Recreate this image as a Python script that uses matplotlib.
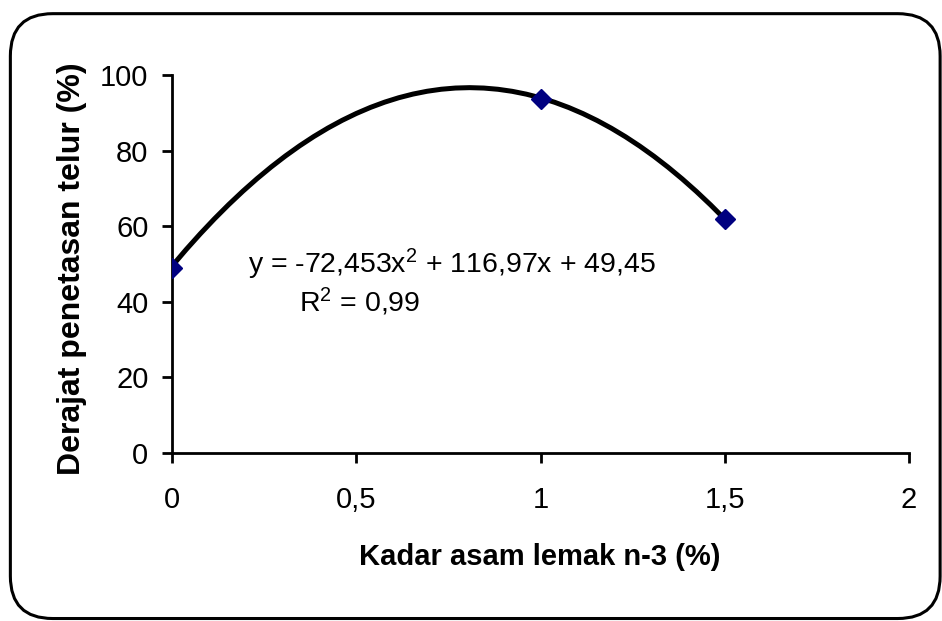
import numpy as np
import matplotlib
matplotlib.use("Agg")
import matplotlib.pyplot as plt
from matplotlib.patches import FancyBboxPatch

# Data
kadar_n3 = [0, 1, 1.5]
derajat_tetas = [49, 93.6, 61.9]

# Polynomial trend line coefficients (as shown on the chart)
trend_coef = [-72.453, 116.97, 49.45]
trend_range = [0, 1.5]

x_ticks = [0, 0.5, 1, 1.5, 2]
x_ticklabels = ["0", "0,5", "1", "1,5", "2"]
y_ticks = [0, 20, 40, 60, 80, 100]

plt.rcParams['font.family'] = ['Liberation Sans', 'DejaVu Sans']
plt.rcParams['mathtext.fontset'] = 'custom'
plt.rcParams['mathtext.rm'] = 'Liberation Sans'
plt.rcParams['mathtext.it'] = 'Liberation Sans'

fig = plt.figure(figsize=(9.42, 6.21), dpi=100)
ax = fig.add_axes([0.1826, 0.2705, 0.7824, 0.6087])

# rounded frame around the whole chart
frame = FancyBboxPatch((0.011, 0.004), 0.987, 0.974,
                       boxstyle="round,pad=0,rounding_size=0.045",
                       transform=fig.transFigure, facecolor="none",
                       edgecolor="black", linewidth=2.2, mutation_aspect=942/621)
fig.patches.append(frame)

xs = np.linspace(trend_range[0], trend_range[1], 40)
ax.plot(xs, np.polyval(trend_coef, xs), color="black", linewidth=3.6, zorder=2)
ax.plot(kadar_n3, derajat_tetas, linestyle="none", marker="D", markersize=10,
        color="#000080", zorder=3)

ax.set_xlim(0, 2)
ax.set_ylim(0, 100)
ax.set_xticks(x_ticks)
ax.set_xticklabels(x_ticklabels)
ax.set_yticks(y_ticks)

for s in ["top", "right"]:
    ax.spines[s].set_visible(False)
for s in ["left", "bottom"]:
    ax.spines[s].set_linewidth(2)
ax.tick_params(axis="x", direction="out", length=7, width=2, pad=17, labelsize=21)
ax.tick_params(axis="y", direction="out", length=7, width=2, pad=10, labelsize=21)

fig.text(0.573, 0.103, "Kadar asam lemak n-3 (%)", fontsize=21,
         fontweight="bold", ha="center", va="center")
fig.text(0.0764, 0.5668, "Derajat penetasan telur (%)", fontsize=23,
         fontweight="bold", ha="center", va="center", rotation=90)

ax.text(0.205, 50, r"y = -72,453x$^2$ + 116,97x + 49,45", fontsize=20.5,
        ha="left", va="center")
ax.text(0.51, 40, r"R$^2$ = 0,99", fontsize=20.5, ha="center", va="center")

fig.savefig("out.png", dpi=100)
